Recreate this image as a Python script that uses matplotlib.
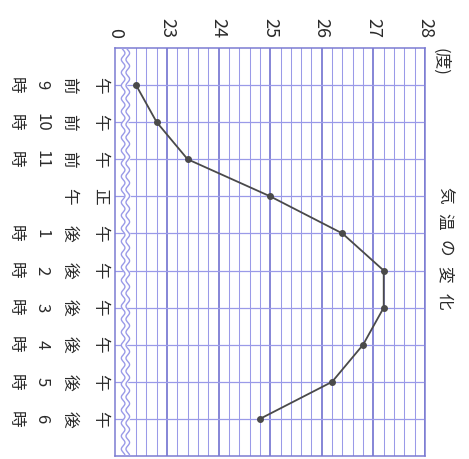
import numpy as np
import matplotlib
matplotlib.use("Agg")
import matplotlib.pyplot as plt
from matplotlib.transforms import blended_transform_factory

plt.rcParams['font.family'] = ['Noto Sans CJK JP', 'DejaVu Sans']

# data (chart is shown rotated 90 deg clockwise)
hours = [9, 10, 11, 12, 13, 14, 15, 16, 17, 18]
temps = [22.4, 22.8, 23.4, 25.0, 26.4, 27.2, 27.2, 26.8, 26.2, 24.8]
hour_labels = [
    ["午", "前", "9", "時"],
    ["午", "前", "10", "時"],
    ["午", "前", "11", "時"],
    ["正", "午"],
    ["午", "後", "1", "時"],
    ["午", "後", "2", "時"],
    ["午", "後", "3", "時"],
    ["午", "後", "4", "時"],
    ["午", "後", "5", "時"],
    ["午", "後", "6", "時"],
]
temp_ticks = [22, 23, 24, 25, 26, 27, 28]
temp_ticklabels = ["0", "23", "24", "25", "26", "27", "28"]
title_chars = ["気", "温", "の", "変", "化"]

W, H = 469, 459
fig = plt.figure(figsize=(W / 100, H / 100), dpi=100)
ax = fig.add_axes([115.4 / W, 3 / H, (425 - 115.4) / W, (411 - 3) / H])

major_c = '#6464cc'
minor_c = '#9a9ae8'
txt_c = '#2a2a2a'

ax.set_xlim(22, 28)
ax.set_ylim(19, 8)

# grid
for v in np.arange(22.2, 28, 0.2):
    if abs(v - round(v)) < 1e-6:
        ax.axvline(v, color=major_c, lw=1.1, zorder=1)
    else:
        ax.axvline(v, color=minor_c, lw=0.75, zorder=1)
for h in range(9, 19):
    ax.axhline(h, color=minor_c, lw=0.9, zorder=1)

# wavy break (double line)
yy = np.linspace(8, 19, 600)
w1 = 22.15 + 0.035 * np.sin(yy / 0.35 * 2 * np.pi)
w2 = 22.24 + 0.035 * np.sin(yy / 0.35 * 2 * np.pi)
ax.fill_betweenx(yy, w1, w2, color='white', zorder=2)
ax.plot(w1, yy, color=minor_c, lw=1.0, zorder=3)
ax.plot(w2, yy, color=minor_c, lw=1.0, zorder=3)

# data line
ax.plot(temps, hours, color='#4a4a4a', lw=1.3, marker='o', ms=4,
        mfc='#4a4a4a', mec='#4a4a4a', zorder=5)

for s in ax.spines.values():
    s.set_color('#7c7cd2')
    s.set_linewidth(1.1)

ax.set_yticks([])
ax.xaxis.tick_top()
ax.set_xticks(temp_ticks)
ax.set_xticklabels(temp_ticklabels, rotation=-90, fontsize=13, color=txt_c,
                   va='bottom', ha='center')
ax.tick_params(axis='x', length=0, pad=7)

# unit
fig.text(440 / W, 1 - 62 / H, "(度)", rotation=-90, fontsize=12,
         color=txt_c, ha='center', va='center')

# time labels, stacked characters drawn right to left
tr = blended_transform_factory(fig.transFigure, ax.transData)
col_x = [100, 69, 42, 15]
for h, chars in zip(hours, hour_labels):
    for cx, ch in zip(col_x, chars):
        fig.text(cx / W, h, ch, transform=tr, rotation=-90, fontsize=12,
                 color=txt_c, ha='center', va='center')

# title
for i, ch in enumerate(title_chars):
    fig.text(444 / W, 1 - (195 + 26.5 * i) / H, ch, rotation=-90, fontsize=12,
             color=txt_c, ha='center', va='center')

fig.savefig("out.png", dpi=100)
